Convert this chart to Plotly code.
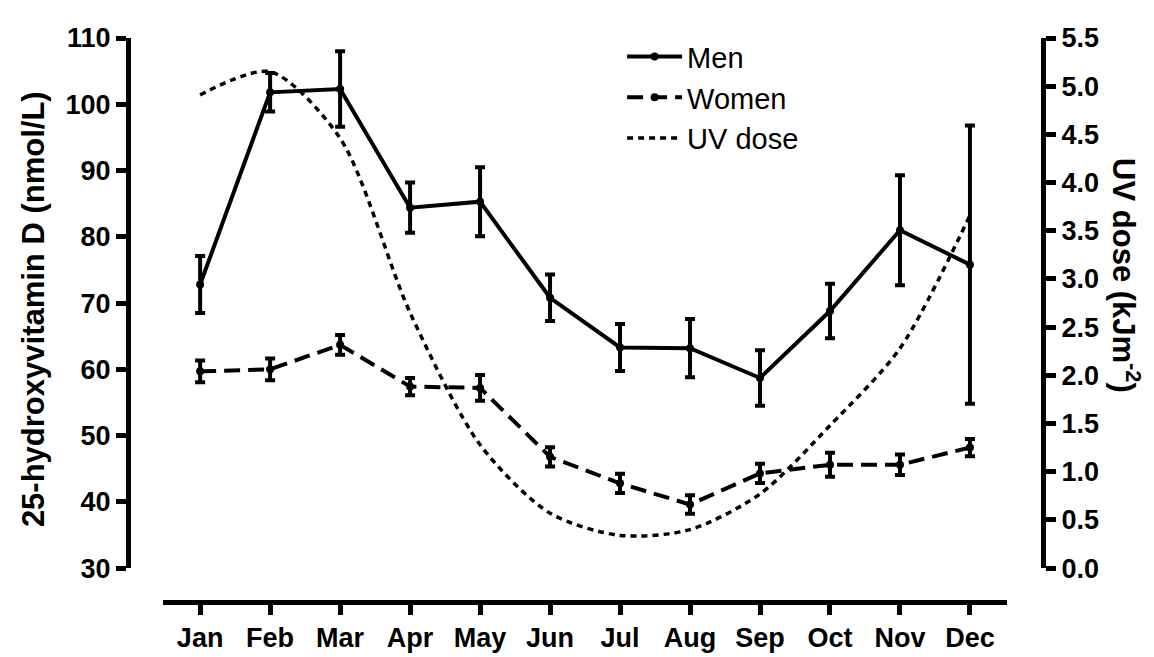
import plotly.graph_objects as go

# ---------------------------
# data
# ---------------------------
months = ["Jan", "Feb", "Mar", "Apr", "May", "Jun",
          "Jul", "Aug", "Sep", "Oct", "Nov", "Dec"]

men_mean = [72.8, 101.8, 102.3, 84.4, 85.3, 70.8, 63.3, 63.2, 58.7, 68.8, 81.0, 75.8]
men_err = [4.3, 2.9, 5.7, 3.8, 5.2, 3.5, 3.55, 4.4, 4.2, 4.1, 8.3, 21.0]

women_mean = [59.7, 60.0, 63.7, 57.4, 57.2, 46.8, 42.8, 39.6, 44.3, 45.6, 45.6, 48.2]
women_err = [1.65, 1.65, 1.5, 1.3, 1.95, 1.45, 1.45, 1.4, 1.45, 1.8, 1.55, 1.3]

uv_dose = [4.91, 5.15, 4.46, 2.65, 1.28, 0.57, 0.34, 0.40, 0.77, 1.48, 2.28, 3.66]

FONT = "Liberation Sans, Arial, sans-serif"
BLACK = "#000000"

fig = go.Figure()

fig.add_trace(go.Scatter(
    x=months, y=men_mean, name="Men", mode="lines+markers",
    line=dict(color=BLACK, width=4),
    marker=dict(color=BLACK, size=8),
    error_y=dict(type="data", array=men_err, color=BLACK, thickness=4, width=5),
))

fig.add_trace(go.Scatter(
    x=months, y=women_mean, name="Women", mode="lines+markers",
    line=dict(color=BLACK, width=4, dash="16px,8px"),
    marker=dict(color=BLACK, size=8),
    error_y=dict(type="data", array=women_err, color=BLACK, thickness=4, width=5),
))

fig.add_trace(go.Scatter(
    x=months, y=uv_dose, name="UV dose", mode="lines", yaxis="y2",
    line=dict(color=BLACK, width=3.5, dash="6px,5px", shape="spline", smoothing=0.8),
))

tick_font = dict(family=FONT, size=27, color=BLACK, weight="bold")
axis_common = dict(
    showgrid=False, zeroline=False, showline=True,
    linecolor=BLACK, linewidth=5,
    ticks="outside", ticklen=10, tickwidth=5, tickcolor=BLACK,
    tickfont=tick_font,
)

fig.update_layout(
    width=1154, height=657,
    paper_bgcolor="white", plot_bgcolor="white",
    margin=dict(l=120, r=119, t=30, b=45),
    font=dict(family=FONT, color=BLACK),
    xaxis=dict(
        **axis_common,
        domain=[0.0383, 0.9607],
        range=[-0.53, 11.53],
        anchor="free", position=0,
        categoryorder="array", categoryarray=months,
    ),
    yaxis=dict(
        **axis_common,
        domain=[0.060, 1],
        range=[30, 110], dtick=10, tick0=30,
        anchor="free", position=0,
    ),
    yaxis2=dict(
        **axis_common,
        domain=[0.060, 1],
        range=[0, 5.5], dtick=0.5, tick0=0, tickformat=".1f",
        overlaying="y", side="right",
        anchor="free", position=1,
    ),
    legend=dict(
        x=0.540, y=1.012, xanchor="left", yanchor="top",
        bgcolor="rgba(0,0,0,0)",
        font=dict(family=FONT, size=29, color=BLACK),
        itemwidth=55, tracegroupgap=0,
    ),
    showlegend=True,
    annotations=[
        dict(text="25-hydroxyvitamin D (nmol/L)", xref="paper", yref="paper",
             x=-0.104, y=0.519, xanchor="center", yanchor="middle",
             showarrow=False, textangle=-90,
             font=dict(family=FONT, size=31, color=BLACK, weight="bold")),
        dict(text="UV dose (kJm<sup>-2</sup>)", xref="paper", yref="paper",
             x=1.090, y=0.579, xanchor="center", yanchor="middle",
             showarrow=False, textangle=90,
             font=dict(family=FONT, size=31, color=BLACK, weight="bold")),
    ],
)

fig.write_html("out.html")
